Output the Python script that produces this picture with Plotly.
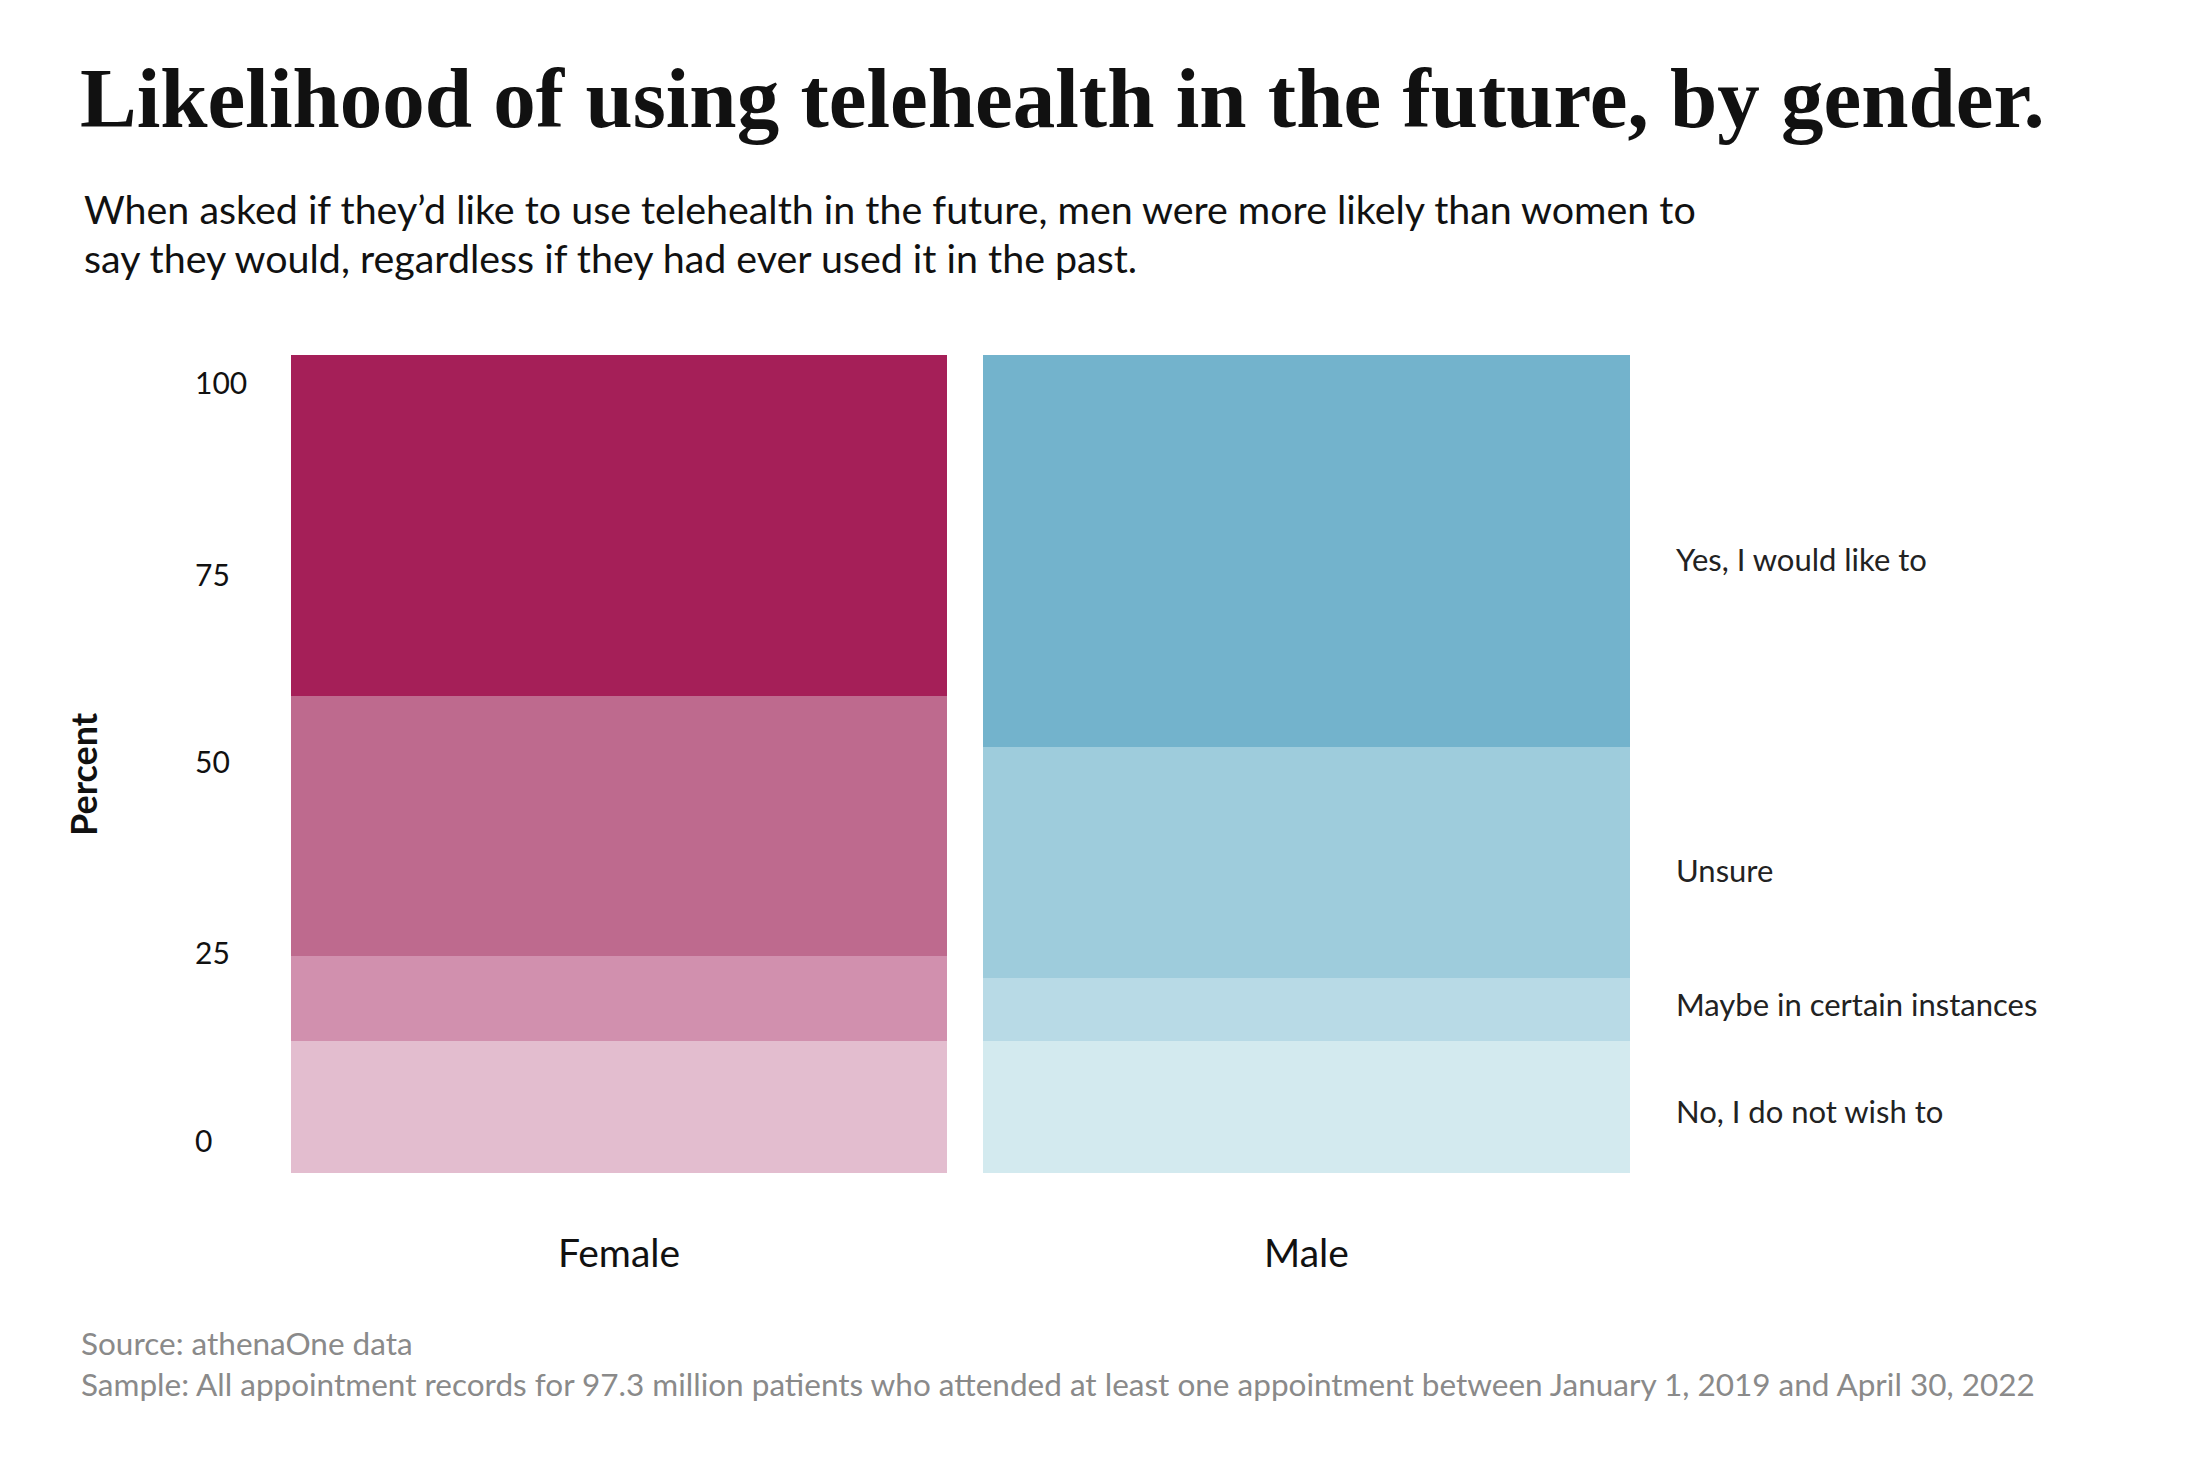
import plotly.graph_objects as go

# data (percent of respondents)
genders = ["Female", "Male"]
responses = ["No, I do not wish to", "Maybe in certain instances", "Unsure", "Yes, I would like to"]
female_pct = [16.1, 10.4, 31.8, 41.7]
male_pct = [16.1, 7.8, 28.2, 47.9]

female_colors = ["#E3BDCF", "#D190AE", "#BE6A8E", "#A51F58"]
male_colors = ["#D3EAEF", "#B8DAE6", "#9ECCDC", "#73B3CC"]

y_tickvals = [3.8, 26.8, 50.2, 73.0, 96.5]
y_ticktext = ["0", "25", "50", "75", "100"]

W, H = 2209, 1463
OFF = 10  # page margin offset
L, R, T, B = 180, 100, 347, 298
plot_w = W - L - R
plot_h = H - T - B


def px(x):
    return (x - OFF - L) / plot_w


def py(y):
    return (H - B - (y - OFF)) / plot_h


SANS = "Lato, 'Noto Sans', sans-serif"

fig = go.Figure()

for i, resp in enumerate(responses):
    fig.add_trace(
        go.Bar(
            x=genders,
            y=[female_pct[i], male_pct[i]],
            name=resp,
            width=[0.953, 0.941],
            marker=dict(color=[female_colors[i], male_colors[i]], line=dict(width=0)),
            showlegend=False,
        )
    )

# response labels next to the male bar, near segment midpoints
label_nudge = [-0.5, 0.6, -1.0, -1.0]
annotations = []
cum = 0
for resp, v, nudge in zip(responses, male_pct, label_nudge):
    mid = cum + v / 2
    cum += v
    annotations.append(
        dict(
            x=1.535, y=mid + nudge, xref="x", yref="y",
            text=resp, showarrow=False, xanchor="left", yanchor="middle",
            font=dict(family=SANS, size=31, color="#222222"),
        )
    )

annotations += [
    dict(
        x=px(80), y=py(100), xref="paper", yref="paper",
        text="<b>Likelihood of using telehealth in the future, by gender.</b>",
        showarrow=False, xanchor="left", yanchor="middle",
        font=dict(family="'Liberation Serif', serif", size=85, color="#111111"),
    ),
    dict(
        x=px(84), y=py(210), xref="paper", yref="paper",
        text="When asked if they\u2019d like to use telehealth in the future, men were more likely than women to",
        showarrow=False, xanchor="left", yanchor="middle",
        font=dict(family=SANS, size=39.4, color="#111111"),
    ),
    dict(
        x=px(84), y=py(259), xref="paper", yref="paper",
        text="say they would, regardless if they had ever used it in the past.",
        showarrow=False, xanchor="left", yanchor="middle",
        font=dict(family=SANS, size=39.4, color="#111111"),
    ),
    dict(
        x=px(85), y=py(776), xref="paper", yref="paper",
        text="<b>Percent</b>", textangle=-90,
        showarrow=False, xanchor="center", yanchor="middle",
        font=dict(family=SANS, size=36, color="#111111"),
    ),
    dict(
        x=px(81), y=py(1345), xref="paper", yref="paper",
        text="Source: athenaOne data",
        showarrow=False, xanchor="left", yanchor="middle",
        font=dict(family=SANS, size=31.5, color="#8a8a8a"),
    ),
    dict(
        x=px(81), y=py(1386), xref="paper", yref="paper",
        text="Sample: All appointment records for 97.3 million patients who attended at least one appointment between January 1, 2019 and April 30, 2022",
        showarrow=False, xanchor="left", yanchor="middle",
        font=dict(family=SANS, size=31.5, color="#8a8a8a"),
    ),
]

fig.update_layout(
    width=W,
    height=H,
    margin=dict(l=L, r=R, t=T, b=B),
    barmode="stack",
    bargap=0,
    plot_bgcolor="white",
    paper_bgcolor="white",
    annotations=annotations,
    xaxis=dict(
        range=[-0.6269, 2.1789],
        showgrid=False, zeroline=False, showline=False, ticks="",
        ticklabelstandoff=54,
        tickfont=dict(family=SANS, size=39, color="#111111"),
    ),
    yaxis=dict(
        range=[0, 100],
        anchor="free", position=0, side="right",
        tickvals=y_tickvals, ticktext=y_ticktext,
        showgrid=False, zeroline=False, showline=False, ticks="",
        ticklabelstandoff=6,
        tickfont=dict(family=SANS, size=30, color="#111111"),
    ),
)

fig.write_html("out.html")
